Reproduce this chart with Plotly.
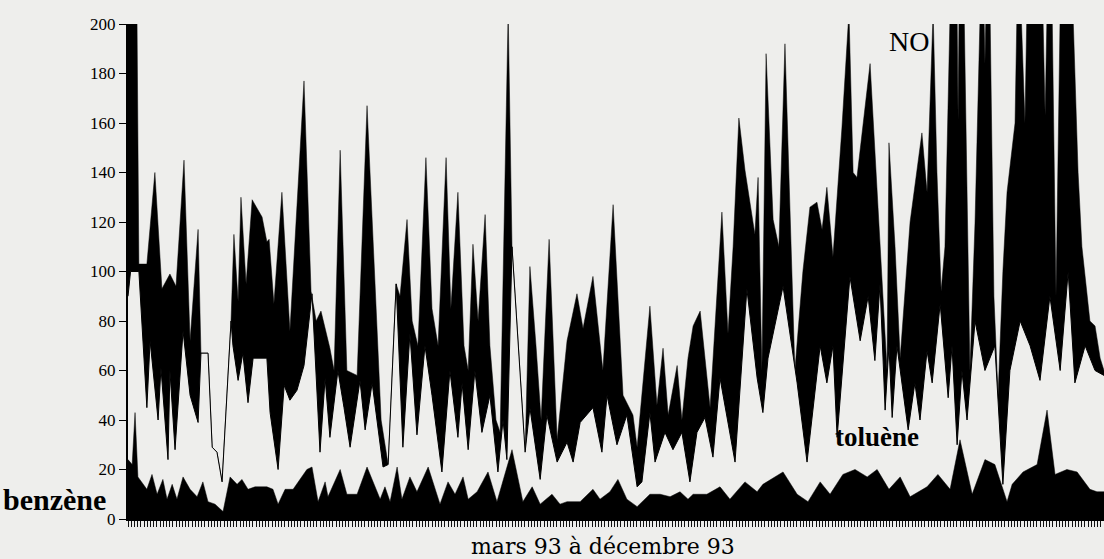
import plotly.graph_objects as go

# x = jour depuis le 1er mars 1993 (0..305)
no_jour = [0, 2.8, 3.4, 5.9, 8.4, 10.6, 13.1, 15, 17.5, 19.4, 21.9, 22.8, 25, 26.3, 27.8, 29.4, 32.2, 33.1, 34.4, 35.3,
           36.9, 38.8, 41.9, 43.4, 44.1, 45.6, 48.1, 50.6, 55, 57.2, 58.8, 60.3, 63.1, 64.4, 66.3, 68.4, 71.6, 74.7,
           77.2, 79.1, 81.3, 83.8, 85, 87.2, 88.8, 90.6, 93.1, 95, 96.9, 99.4, 100.9, 103.1, 105, 106.3, 107.8, 109.4,
           111.6, 113.1, 115, 116.3, 118.8, 120, 124.1, 125.6, 127.5, 129.1, 131.6, 134.1, 137.2, 140.3, 142.2, 145.3,
           148.4, 151.6, 154.7, 157.8, 159.1, 163.1, 165.3, 167.2, 168.8, 171.6, 173.1, 175, 176.6, 178.8, 181.9,
           185.6, 187.5, 189.1, 190.9, 192.8, 195.9, 196.9, 198.1, 199.4, 201.6, 203.4, 205.3, 206.9, 208.4, 210.9,
           213.1, 215.3, 216.9, 218.4, 220.3, 223.1, 225.3, 226.6, 227.8, 231.9, 235, 237.2, 237.8, 239.7, 241.3,
           244.4, 248.1, 249.7, 251.6, 252.8, 254.1, 255.3, 256.9, 259.1, 259.4, 259.7, 261.3, 262.5, 263.1, 264.7,
           266.3, 267.5, 267.8, 268.1, 269.4, 270.6, 271.9, 273.4, 274.7, 277.2, 277.8, 279.1, 280.3, 280.9, 285.9,
           286.6, 287.2, 288.8, 290, 291.3, 295.3, 296.9, 298.1, 300.6, 302.2, 303.8, 305]
no_val = [205, 205, 103, 103, 140, 93, 99, 94, 145, 72, 117, 67, 67, 29, 27, 15, 80, 115, 88, 130,
          95, 129, 122, 112, 113, 87, 132, 76, 177, 92, 80, 84, 69, 60, 149, 60, 58, 167,
          95, 40, 22, 95, 90, 121, 80, 70, 146, 85, 70, 146, 85, 132, 70, 60, 111, 80,
          123, 70, 40, 35, 205, 110, 27, 102, 70, 40, 113, 32, 72, 91, 77, 98,
          60, 127, 50, 42, 29, 86, 46, 69, 42, 62, 40, 65, 78, 84, 45,
          124, 75, 110, 162, 141, 115, 138, 60, 188, 121, 110, 192, 120, 60, 100,
          126, 128, 117, 134, 106, 158, 205, 140, 138, 184, 110, 60, 152, 110, 65,
          120, 156, 132, 205, 140, 92, 110, 205, 205, 161, 205, 205, 110, 60, 120,
          205, 205, 184, 205, 205, 90, 50, 100, 132, 160, 205, 205, 160, 205, 205,
          163, 205, 205, 90, 205, 205, 140, 110, 80, 78, 65, 60]

tol_jour = [0, 0.8, 3.4, 5.9, 6.9, 9.4, 10.3, 12.5, 13.1, 14.7, 17.2, 19.4, 21.9, 22.8, 25, 26.3, 27.8, 29.4,
            32.2, 32.8, 34.4, 35.9, 37.5, 39.1, 43.4, 44.4, 46.9, 48.8, 50.6, 52.8, 55, 57.5, 60, 61.6, 63.1, 65.6,
            67.5, 69.4, 72.5, 74.1, 76.3, 79.7, 81.3, 83.8, 85.9, 88.1, 90.3, 92.8, 95, 98.1, 100.6, 103.1, 104.4,
            106.3, 108.4, 110.6, 113.1, 115.6, 117.2, 118.4, 120, 124.1, 125.6, 128.8, 130.9, 134.1, 137.2, 139.1,
            141.3, 145.3, 148.1, 149.7, 152.8, 155.9, 159.1, 160.6, 163.1, 164.7, 167.8, 170.3, 173.1, 175.6, 177.8,
            180.3, 182.8, 185, 189.7, 193.4, 196.6, 198.4, 200, 204.7, 209.1, 212.2, 216.3, 218.4, 220.3, 221.6,
            225.6, 228.8, 231.3, 233.4, 235, 236.6, 237.8, 238.8, 240.3, 243.8, 245.9, 247.5, 249.7, 251.3, 253.8,
            256.3, 257.5, 259.1, 260.6, 262.2, 264.7, 267.8, 270.9, 273.4, 275.6, 278.8, 281.9, 285, 288.1, 291.3,
            293.8, 295.9, 299.1, 302.2, 305]
tol_val = [90, 100, 100, 45, 72, 40, 61, 24, 60, 28, 76, 50, 39, 67, 67, 29, 27, 15,
           80, 70, 56, 67, 47, 65, 65, 43, 20, 54, 48, 52, 62, 91, 27, 57, 33, 60,
           45, 29, 56, 36, 55, 21, 22, 95, 29, 75, 34, 70, 50, 19, 60, 33, 55,
           28, 60, 35, 50, 19, 40, 24, 110, 27, 45, 16, 42, 23, 31, 23,
           39, 45, 27, 50, 30, 42, 13, 15, 43, 23, 35, 28, 35, 15, 35,
           41, 25, 57, 23, 93, 57, 43, 65, 94, 55, 23, 70, 55, 70, 33,
           98, 72, 90, 64, 95, 44, 70, 41, 70, 36, 55, 40, 68, 55, 87,
           49, 70, 30, 60, 40, 80, 60, 70, 14, 60, 80, 70, 56, 90, 60,
           100, 55, 70, 60, 58]

ben_jour = [0, 1.3, 2.2, 3.1, 5.9, 7.5, 9.1, 10.9, 12.2, 13.8, 15.3, 17.2, 19.4, 21.6, 23.4, 25, 27.2, 29.7, 31.9,
            34.1, 35.6, 37.5, 39.7, 43.4, 45.3, 46.9, 49.1, 51.6, 55.9, 57.5, 59.4, 61.6, 62.5, 66.3, 68.4, 71.6,
            74.7, 78.8, 80.3, 81.9, 84.1, 85.6, 88.1, 90.3, 93.8, 97.5, 100, 102.2, 104.7, 106.3, 109.1, 112.5,
            115.3, 120, 123.4, 126.3, 128.8, 132.5, 135, 137.2, 141.3, 145.3, 147.5, 150.6, 153.1, 155.9, 159.1,
            163.1, 166.3, 169.4, 172.5, 175, 176.6, 180.9, 185, 188.1, 192.8, 196.6, 198.4, 204.7, 209.1, 212.5,
            216.3, 219.4, 223.4, 227.2, 231, 234.1, 237.8, 241.3, 244.4, 249.7, 253.1, 256.9, 260, 263.8, 267.8,
            270.9, 274.7, 276.3, 279.7, 284.1, 287.2, 289.7, 293.4, 296.6, 300.6, 302.8, 305]
ben_val = [24, 22, 43, 17, 12, 18, 10, 16, 8, 14, 8, 17, 12, 9, 15, 7, 6, 3, 17,
           14, 16, 12, 13, 13, 12, 6, 12, 12, 20, 21, 7, 15, 9, 20, 10, 10,
           21, 8, 13, 7, 21, 8, 17, 11, 21, 6, 15, 10, 17, 8, 11, 19,
           7, 28, 7, 13, 6, 10, 6, 7, 7, 12, 8, 11, 16, 8, 5,
           10, 10, 9, 11, 8, 10, 10, 13, 8, 15, 11, 14, 19, 10, 7,
           15, 10, 18, 20, 17, 20, 12, 17, 9, 13, 18, 12, 32, 10, 24,
           22, 7, 14, 19, 22, 44, 18, 20, 19, 12, 11, 11]

y_ticks = [0, 20, 40, 60, 80, 100, 120, 140, 160, 180, 200]

BG = "#eeeeec"
SERIF = "Liberation Serif"
WIDE_SERIF = "DejaVu Serif"

fig = go.Figure()
fig.add_trace(go.Scatter(x=no_jour, y=no_val, mode="lines", fill="tozeroy",
                         fillcolor="black", line=dict(color="black", width=0.5), name="NO"))
fig.add_trace(go.Scatter(x=tol_jour, y=tol_val, mode="lines", fill="tozeroy",
                         fillcolor=BG, line=dict(color="black", width=1), name="toluène"))
fig.add_trace(go.Scatter(x=ben_jour, y=ben_val, mode="lines", fill="tozeroy",
                         fillcolor="black", line=dict(color="black", width=0.5), name="benzène"))

fig.update_layout(
    width=1104, height=559,
    margin=dict(l=128, r=0, t=24, b=40),
    paper_bgcolor=BG, plot_bgcolor=BG,
    showlegend=False,
    font=dict(family=SERIF, color="black", size=15),
    xaxis=dict(range=[0, 305], showgrid=False, zeroline=False, showline=True, linecolor="black",
               linewidth=2, ticks="outside", ticklen=6, tickwidth=1.3, tickcolor="#111",
               tickmode="linear", tick0=0, dtick=1, showticklabels=False),
    yaxis=dict(range=[0, 200], showgrid=False, zeroline=False, showline=True, linecolor="black",
               linewidth=2, ticks="outside", ticklen=7, tickcolor="black",
               tickvals=y_ticks, ticktext=[str(v) for v in y_ticks],
               tickfont=dict(family=SERIF, size=17)),
    annotations=[
        dict(text="mars 93 à décembre 93", xref="paper", yref="paper", x=0.487, y=-0.026,
             xanchor="center", yanchor="top", showarrow=False,
             font=dict(family=WIDE_SERIF, size=22, color="black")),
        dict(text="NO", xref="x", yref="y", x=244, y=193, showarrow=False,
             font=dict(family=SERIF, size=28, color="black")),
        dict(text="<b>toluène</b>", xref="x", yref="y", x=234, y=33, showarrow=False,
             font=dict(family=SERIF, size=27, color="black")),
        dict(text="<b>benzène</b>", xref="paper", yref="y", x=-0.02, y=8, xanchor="right",
             showarrow=False, font=dict(family=SERIF, size=30, color="black")),
    ],
)
fig.write_html("out.html")
